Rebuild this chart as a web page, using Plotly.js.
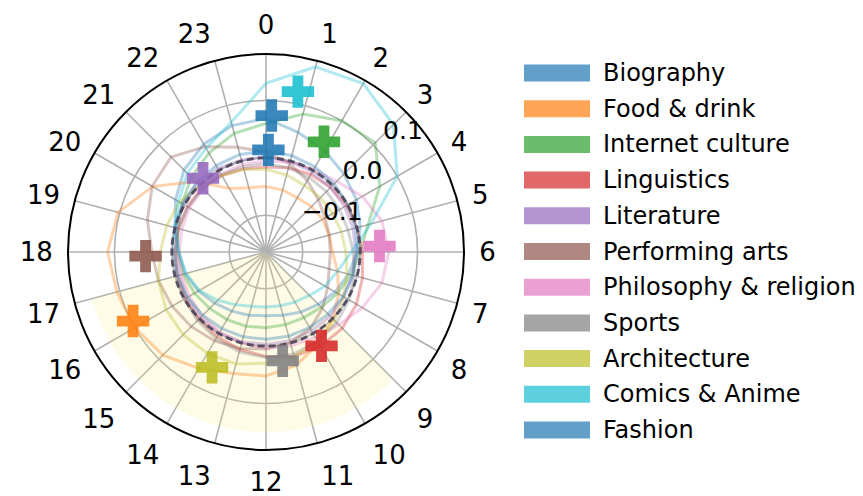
<!DOCTYPE html>
<html>
<head>
<meta charset="utf-8">
<script src="https://cdn.plot.ly/plotly-3.0.1.min.js"></script>
<style>html,body{margin:0;padding:0;background:#fff;}#chart{width:863px;height:496px;}</style>
</head>
<body>
<div id="chart"></div>
<script>
// ---------------- data ----------------
const hours = [0,1,2,3,4,5,6,7,8,9,10,11,12,13,14,15,16,17,18,19,20,21,22,23];
const hourLabels = ['0','1','2','3','4','5','6','7','8','9','10','11','12','13','14','15','16','17','18','19','20','21','22','23'];

const categories = ['Biography','Food & drink','Internet culture','Linguistics','Literature',
  'Performing arts','Philosophy & religion','Sports','Architecture','Comics & Anime','Fashion'];
const colors = ['#1f77b4','#ff7f0e','#2ca02c','#d62728','#9467bd',
  '#8c564b','#e377c2','#7f7f7f','#bcbd22','#17becf','#1f77b4'];

const biography          = [0.069,0.052,0.040,0.028,0.018,0.006,-0.005,-0.015,-0.025,-0.035,-0.043,-0.050,-0.053,-0.050,-0.045,-0.038,-0.028,-0.018,-0.012,0.000,0.018,0.038,0.053,0.064];
const foodDrink          = [-0.050,-0.052,-0.055,-0.052,-0.050,-0.050,-0.048,-0.035,-0.018,0.000,0.020,0.040,0.052,0.055,0.070,0.090,0.100,0.105,0.112,0.103,0.064,0.010,-0.036,-0.048];
const internetCulture    = [0.060,0.085,0.100,0.105,0.065,0.020,0.000,-0.010,-0.020,-0.028,-0.032,-0.033,-0.032,-0.030,-0.028,-0.025,-0.020,-0.015,-0.010,-0.005,0.005,0.020,0.035,0.050];
const linguistics        = [-0.016,-0.012,-0.008,-0.005,-0.002,0.000,0.004,0.010,0.018,0.024,0.026,0.024,0.018,0.012,0.006,0.002,-0.002,-0.004,-0.006,-0.006,-0.006,-0.006,-0.010,-0.014];
const literature         = [0.002,-0.001,-0.003,-0.005,-0.006,-0.007,-0.008,-0.008,-0.007,-0.006,-0.005,-0.004,-0.003,-0.002,-0.001,-0.002,-0.005,-0.008,-0.008,-0.003,0.003,0.006,0.004,0.002];
const performingArts     = [0.010,-0.005,-0.020,-0.035,-0.045,-0.050,-0.052,-0.050,-0.040,-0.025,-0.010,0.000,0.005,0.010,0.015,0.020,0.025,0.030,0.035,0.050,0.065,0.070,0.048,0.025];
const philosophyReligion = [-0.005,-0.002,0.002,0.010,0.030,0.045,0.050,0.045,0.030,0.015,0.008,0.005,0.004,0.000,-0.003,-0.006,-0.010,-0.012,-0.013,-0.012,-0.010,-0.008,-0.007,-0.006];
const sports             = [-0.010,-0.012,-0.014,-0.015,-0.016,-0.016,-0.012,-0.005,0.003,0.010,0.016,0.020,0.020,0.016,0.010,0.005,0.000,-0.003,-0.005,-0.006,-0.007,-0.008,-0.009,-0.010];
const architecture       = [-0.020,-0.025,-0.030,-0.030,-0.030,-0.028,-0.025,-0.018,-0.008,0.005,0.015,0.025,0.030,0.038,0.040,0.040,0.037,0.030,0.020,0.015,0.010,0.000,-0.010,-0.015];
const comicsAnime        = [0.130,0.170,0.175,0.150,0.100,0.025,-0.015,-0.035,-0.045,-0.057,-0.063,-0.067,-0.068,-0.066,-0.058,-0.045,-0.030,-0.020,-0.012,0.000,0.012,0.030,0.045,0.070];
const fashion            = [0.012,0.010,0.007,0.004,0.001,-0.002,-0.005,-0.007,-0.009,-0.011,-0.012,-0.012,-0.012,-0.011,-0.010,-0.008,-0.006,-0.004,-0.002,0.001,0.004,0.007,0.010,0.012];

const seriesValues = [biography, foodDrink, internetCulture, linguistics, literature,
  performingArts, philosophyReligion, sports, architecture, comicsAnime, fashion];

// peak markers (hour, value) per category
const peakHours  = [0.16, 16.17, 1.85, 9.96, 21.3, 17.87, 5.8, 11.42, 13.67, 0.75, 0.09];
const peakValues = [0.074, 0.097, 0.053, 0.026, 0.005, 0.046, 0.034, 0.028, 0.058, 0.121, 0.014];

const radialTicks = [-0.1, 0.0, 0.1];
const radialTickText = ['\u22120.1', '0.0', '0.1'];
const radialRange = [-0.164, 0.181];

// highlighted hours window
const highlightStartHour = 9;
const highlightEndHour = 17;
const highlightOuter = 0.15;

// ---------------- build ----------------
const DEG_PER_HOUR = 15;
const toDeg = h => h * DEG_PER_HOUR;
const FONT = 'DejaVu Sans, Liberation Sans, sans-serif';
const RADIAL_LABEL_ANGLE = 45;

function hexA(hex, a) {
  const n = parseInt(hex.slice(1), 16);
  return 'rgba(' + ((n >> 16) & 255) + ',' + ((n >> 8) & 255) + ',' + (n & 255) + ',' + a + ')';
}

const traces = [];

// highlighted wedge
traces.push({
  type: 'barpolar',
  theta: [toDeg((highlightStartHour + highlightEndHour) / 2)],
  width: [toDeg(highlightEndHour - highlightStartHour)],
  base: [radialRange[0]],
  r: [highlightOuter - radialRange[0]],
  marker: { color: 'rgba(248,232,120,0.18)', line: { width: 0 } },
  hoverinfo: 'skip', showlegend: false
});

// category lines (closed)
seriesValues.forEach((vals, i) => {
  const th = hours.map(toDeg);
  traces.push({
    type: 'scatterpolar', mode: 'lines',
    theta: th.concat([th[0]]),
    r: vals.concat([vals[0]]),
    line: { color: hexA(colors[i], 0.34), width: 3 },
    hoverinfo: 'skip', showlegend: false
  });
});

// zero reference circle
const zTheta = [], zR = [];
for (let d = 0; d <= 360; d += 2) { zTheta.push(d); zR.push(0); }
traces.push({
  type: 'scatterpolar', mode: 'lines', theta: zTheta, r: zR,
  line: { color: 'rgba(70,62,85,0.85)', width: 3, dash: '7px,4px' },
  hoverinfo: 'skip', showlegend: false
});

// peak markers
peakHours.forEach((h, i) => {
  traces.push({
    type: 'scatterpolar', mode: 'markers',
    theta: [toDeg(h)], r: [peakValues[i]],
    marker: { symbol: 'cross', size: 27, color: hexA(colors[i], 0.88), line: { width: 0 } },
    hoverinfo: 'skip', showlegend: false
  });
});

// radial tick labels (matplotlib style: placed beside the axis)
traces.push({
  type: 'scatterpolar', mode: 'text',
  theta: radialTicks.map(() => RADIAL_LABEL_ANGLE), r: radialTicks,
  text: radialTickText.map(t => '\u2009\u2009' + t), textposition: 'top right',
  textfont: { family: FONT, size: 25, color: '#000' },
  cliponaxis: false, hoverinfo: 'skip', showlegend: false
});

// manual legend
const W = 863, H = 496;
const shapes = [], annotations = [];
const legTop = 73, legStep = 35.7, patchX0 = 524, patchX1 = 590, patchH = 17, textX = 601;
categories.forEach((c, i) => {
  const yc = legTop + i * legStep;
  shapes.push({
    type: 'rect', xref: 'paper', yref: 'paper',
    x0: patchX0 / W, x1: patchX1 / W,
    y0: 1 - (yc + patchH / 2) / H, y1: 1 - (yc - patchH / 2) / H,
    fillcolor: hexA(colors[i], 0.7), line: { width: 0 }
  });
  annotations.push({
    xref: 'paper', yref: 'paper', x: textX / W, y: 1 - yc / H,
    xanchor: 'left', yanchor: 'middle', showarrow: false,
    text: c, font: { family: FONT, size: 24, color: '#000' }
  });
});

const layout = {
  width: W, height: H,
  margin: { l: 0, r: 0, t: 0, b: 0 },
  paper_bgcolor: '#fff',
  showlegend: false,
  shapes: shapes,
  annotations: annotations,
  polar: {
    domain: { x: [68 / W, 464 / W], y: [46 / H, 442 / H] },
    bgcolor: '#fff',
    barmode: 'overlay',
    angularaxis: {
      rotation: 90, direction: 'clockwise', thetaunit: 'degrees',
      tickmode: 'array', tickvals: hours.map(toDeg), ticktext: hourLabels,
      ticks: 'outside', ticklen: 9, tickcolor: 'rgba(0,0,0,0)',
      tickfont: { family: FONT, size: 26, color: '#000' },
      showline: true, linecolor: '#000', linewidth: 2,
      showgrid: true, gridcolor: '#b0b0b0', gridwidth: 1.6
    },
    radialaxis: {
      range: radialRange, tickmode: 'array', tickvals: radialTicks,
      showticklabels: false, ticks: '',
      showline: false, showgrid: true, gridcolor: '#b0b0b0', gridwidth: 1.6
    }
  }
};

Plotly.newPlot('chart', traces, layout, { staticPlot: true, displayModeBar: false });
</script>
</body>
</html>
